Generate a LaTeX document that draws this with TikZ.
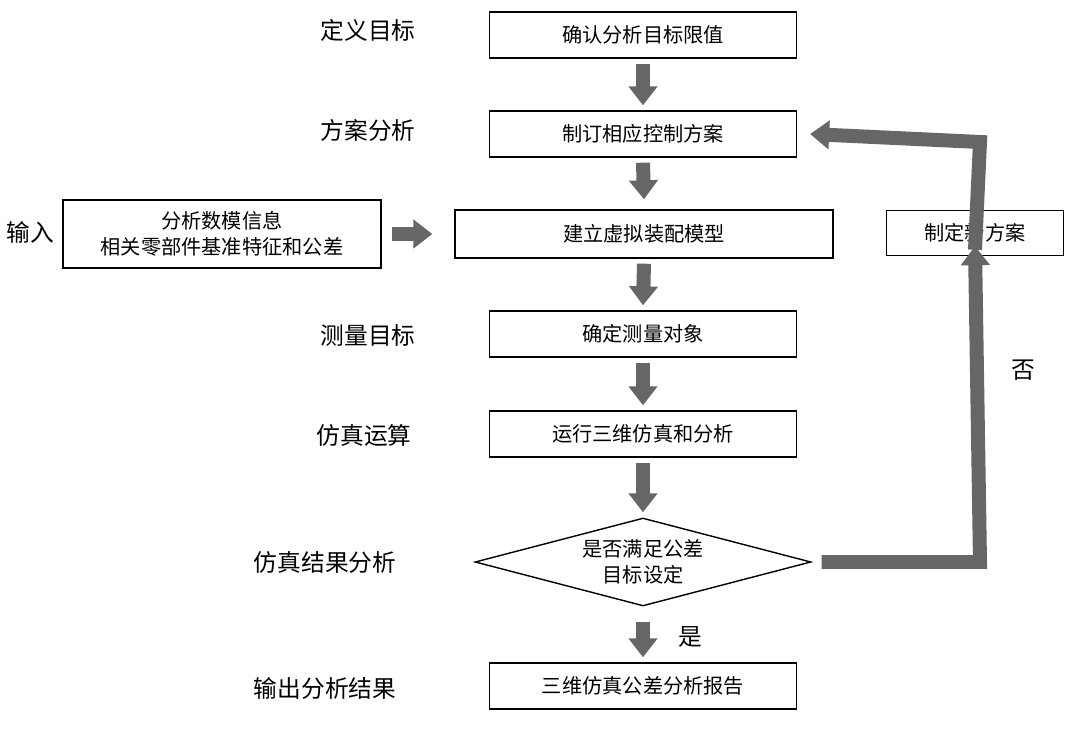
\documentclass[tikz,border=0pt]{standalone}
\usepackage{fontspec}
\setmainfont{Noto Sans CJK SC}
\usetikzlibrary{arrows.meta,shapes.geometric}
\tikzset{
  box/.style={draw, thick, minimum height=0.92cm, font=\fontsize{11.5}{14}\selectfont},
  lbl/.style={font=\fontsize{13.5}{16}\selectfont},
  flow/.style={line width=0.28cm, draw=black!60, -{Triangle[width=0.56cm,length=0.38cm]}}
}
\begin{document}
\begin{tikzpicture}[x=0.02cm,y=-0.02cm]
        \useasboundingbox (0,0) rectangle (1080,733);

        \node (goal) at (643,35) [box, minimum width=6.14cm] {确认分析目标限值};
        \node (plan) at (643,134) [box, minimum width=6.14cm] {制订相应控制方案};
        \node (input) at (222,234) [box, minimum width=6.36cm, minimum height=1.36cm, align=center,
          font=\fontsize{11.5}{15}\selectfont] {分析数模信息\\相关零部件基准特征和公差};
        \node (model) at (644,234) [box, minimum width=7.56cm, minimum height=0.96cm] {建立虚拟装配模型};
        \node (newplan) at (975,233) [box, minimum width=3.54cm, minimum height=0.9cm] {制定新方案};
        \node (meas) at (643,334) [box, minimum width=6.14cm] {确定测量对象};
        \node (sim) at (643,434) [box, minimum width=6.14cm] {运行三维仿真和分析};
        \node (check) at (643,562) [draw, thick, diamond, aspect=3.8, inner sep=0pt,
          minimum width=6.72cm, minimum height=1.76cm, align=center,
          font=\fontsize{11.5}{15}\selectfont] {是否满足公差\\目标设定};
        \node (report) at (643,686) [box, minimum width=6.14cm] {三维仿真公差分析报告};

        \node (l1) at (368,30) [lbl] {定义目标};
        \node (l2) at (368,130) [lbl] {方案分析};
        \node (l0) at (30,232) [lbl] {输入};
        \node (l3) at (368,335) [lbl] {测量目标};
        \node (l4) at (364,435) [lbl] {仿真运算};
        \node (l5) at (325,562) [lbl] {仿真结果分析};
        \node (l6) at (325,688) [lbl] {输出分析结果};
        \node (no) at (1023,370) [lbl] {否};
        \node (yes) at (690,637) [lbl] {是};

        \coordinate (c1) at (980,562);
        \coordinate (c2) at (980,142);

        \draw[flow] ([yshift=-0.1cm]goal.south) -- ([yshift=0.1cm]plan.north);
        \draw[flow] ([yshift=-0.1cm]plan.south) -- ([yshift=0.2cm]model.north);
        \draw[flow] ([yshift=-0.1cm]model.south) -- ([yshift=0.1cm]meas.north);
        \draw[flow] ([yshift=-0.1cm]meas.south) -- ([yshift=0.1cm]sim.north);
        \draw[flow] ([yshift=-0.1cm]sim.south) -- ([yshift=0.1cm]check.north);
        \draw[flow] ([yshift=-0.3cm]check.south) -- ([yshift=0.1cm]report.north);
        \draw[flow] ([xshift=0.2cm]input.east) -- ([xshift=-0.44cm]model.west);
        \draw[flow] ([xshift=0.2cm]check.east) -- (c1) -- ([yshift=0.2cm]newplan.south);
        \draw[flow] ([yshift=-0.8cm]newplan.north) -- (c2) -- ([xshift=0.26cm]plan.east);
        %\draw (0,730) -- (1080,730);
\end{tikzpicture}
\end{document}
